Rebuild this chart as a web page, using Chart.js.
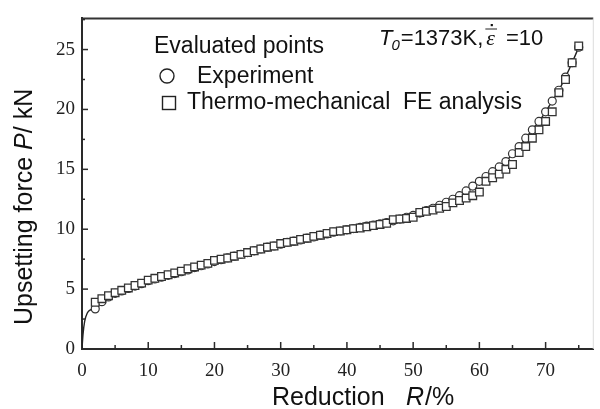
<!DOCTYPE html>
<html>
<head>
<meta charset="utf-8">
<script src="https://cdn.jsdelivr.net/npm/chart.js@4/dist/chart.umd.min.js"></script>
<style>
  html, body { margin: 0; padding: 0; background: #fff; }
  #wrap { width: 600px; height: 409px; position: relative; }
</style>
</head>
<body>
<div id="wrap"><canvas id="c" width="600" height="409"></canvas></div>
<script>
// ---- data ----
const startR = [0, 0.15, 0.4, 0.8, 1.2];           // initial steep rise of experimental curve
const startP = [0, 1.2, 2.3, 3.0, 3.25];
const expR = [2,3,4,5,6,7,8,9,10,11,12,13,14,15,16,17,18,19,20,21,22,23,24,25,26,27,28,29,30,31,32,33,34,35,36,37,38,39,40,41,42,43,44,45,46,47,48,49,50,51,52,53,54,55,56,57,58,59,60,61,62,63,64,65,66,67,68,69,70,71,72,73,74,75];
const expP = [3.35,3.95,4.35,4.65,4.85,5.05,5.25,5.45,5.7,5.85,6.0,6.15,6.3,6.45,6.6,6.8,6.95,7.1,7.3,7.45,7.6,7.75,7.9,8.05,8.2,8.35,8.5,8.6,8.75,8.9,9.0,9.1,9.25,9.35,9.5,9.6,9.75,9.85,9.95,10.05,10.15,10.25,10.35,10.45,10.55,10.7,10.85,11.0,11.15,11.35,11.55,11.75,12.0,12.25,12.5,12.8,13.2,13.6,14.0,14.4,14.8,15.2,15.65,16.3,16.9,17.6,18.3,19.0,19.8,20.7,21.6,22.7,23.9,25.2];
const feR = [2,3,4,5,6,7,8,9,10,11,12,13,14,15,16,17,18,19,20,21,22,23,24,25,26,27,28,29,30,31,32,33,34,35,36,37,38,39,40,41,42,43,44,45,46,47,48,49,50,51,52,53,54,55,56,57,58,59,60,61,62,63,64,65,66,67,68,69,70,71,72,73,74,75];
const feP = [3.9,4.2,4.45,4.7,4.9,5.1,5.3,5.5,5.75,5.9,6.05,6.2,6.35,6.5,6.7,6.85,7.0,7.15,7.4,7.5,7.6,7.75,7.9,8.05,8.2,8.35,8.5,8.6,8.8,8.9,9.0,9.15,9.25,9.4,9.5,9.65,9.8,9.85,9.95,10.05,10.1,10.2,10.3,10.4,10.5,10.8,10.85,10.9,11.0,11.4,11.5,11.6,11.75,11.9,12.2,12.4,12.6,12.8,13.1,14.0,14.3,14.6,15.0,15.4,16.4,16.9,17.6,18.3,19.0,19.8,21.4,22.5,23.9,25.3];
const xTickLabels = ['0','10','20','30','40','50','60','70'];
const yTickLabels = ['0','5','10','15','20','25'];

const pts = (xs, ys) => xs.map((x, i) => ({x: x, y: ys[i]}));
const lineData = pts(startR.concat(expR), startP.concat(expP));

const INK = '#2a2a2a';
const SANS = '"Liberation Sans", Arial, sans-serif';

const decor = {
  id: 'decor',
  afterDraw(chart) {
    const ctx = chart.ctx, a = chart.chartArea, xs = chart.scales.x, ys = chart.scales.y;
    ctx.save();
    // frame top & right
    ctx.strokeStyle = '#333'; ctx.lineWidth = 2;
    ctx.beginPath(); ctx.moveTo(a.left, a.top); ctx.lineTo(a.right, a.top); ctx.stroke();
    ctx.strokeStyle = '#ddd'; ctx.lineWidth = 1;
    ctx.beginPath(); ctx.moveTo(a.right, a.top); ctx.lineTo(a.right, a.bottom); ctx.stroke();
    // inward ticks
    ctx.strokeStyle = INK; ctx.lineWidth = 1.5;
    for (let v = 5; v <= 75; v += 5) {
      const px = xs.getPixelForValue(v), len = (v % 10 === 0) ? 7 : 4;
      ctx.beginPath(); ctx.moveTo(px, a.bottom); ctx.lineTo(px, a.bottom - len); ctx.stroke();
    }
    for (let v = 2.5; v <= 27.5; v += 2.5) {
      const py = ys.getPixelForValue(v), len = (v % 5 === 0) ? 6 : 3;
      ctx.beginPath(); ctx.moveTo(a.left, py); ctx.lineTo(a.left + len, py); ctx.stroke();
    }
    // axis titles
    ctx.fillStyle = '#111';
    ctx.textBaseline = 'alphabetic';
    ctx.textAlign = 'left';
    const f = '25px ' + SANS;
    const fi = 'italic 25px ' + SANS;
    // x title
    let x = 272, y = 405;
    ctx.font = f; ctx.fillText('Reduction', x, y);
    x = 406;
    ctx.font = fi; ctx.fillText('R', x, y); x += ctx.measureText('R').width + 1;
    ctx.font = f; ctx.fillText('/%', x, y);
    // y title
    ctx.save();
    ctx.translate(32, 325); ctx.rotate(-Math.PI / 2);
    x = 0;
    ctx.font = f; ctx.fillText('Upsetting force ', x, 0); x += ctx.measureText('Upsetting force ').width;
    ctx.font = fi; ctx.fillText('P', x, 0); x += ctx.measureText('P').width;
    ctx.font = f; ctx.fillText('/ kN', x, 0);
    ctx.restore();
    // legend
    ctx.font = '23px ' + SANS;
    ctx.fillText('Evaluated points', 154, 53);
    ctx.fillText('Experiment', 197, 83);
    ctx.fillText('Thermo-mechanical  FE analysis', 187, 109);
    ctx.strokeStyle = '#222'; ctx.lineWidth = 1.4;
    ctx.beginPath(); ctx.arc(167, 76, 7, 0, Math.PI * 2); ctx.stroke();
    ctx.strokeRect(162.5, 96.5, 13, 13);
    // annotation T0=1373K, eps-dot =10
    x = 379; y = 45;
    ctx.font = 'italic 22px ' + SANS;
    ctx.fillText('T', x, y); x += ctx.measureText('T').width;
    ctx.font = 'italic 15px ' + SANS;
    ctx.fillText('0', x - 1, y + 5); x += ctx.measureText('0').width;
    ctx.font = '22px ' + SANS;
    ctx.fillText('=1373K,', x, y); x += ctx.measureText('=1373K,').width + 3;
    ctx.font = 'italic 22px "Liberation Serif", "Times New Roman", serif';
    ctx.fillText('ε', x, y);
    const ew = ctx.measureText('ε').width;
    ctx.fillRect(x + ew / 2, y - 21, 2.2, 2.2);
    ctx.beginPath(); ctx.moveTo(x - 1, y - 16); ctx.lineTo(x + ew + 2, y - 16); ctx.lineWidth = 1; ctx.stroke();
    x += ew + 11;
    ctx.font = '22px ' + SANS;
    ctx.fillText('=10', x, y);
    ctx.restore();
  }
};

new Chart(document.getElementById('c'), {
  type: 'scatter',
  data: {
    datasets: [
      { label: 'Thermo-mechanical FE analysis', data: pts(feR, feP), showLine: false,
        pointStyle: 'rect', pointRadius: 5.4, pointBorderWidth: 1.3,
        pointBorderColor: '#333', pointBackgroundColor: '#fff' },
      { label: 'Experiment', data: pts(expR, expP), showLine: false,
        pointStyle: 'circle', pointRadius: 4, pointBorderWidth: 1.2,
        pointBorderColor: '#333', pointBackgroundColor: '#fff' },
      { label: 'Experiment curve', data: lineData, showLine: true, pointRadius: 0,
        borderColor: '#222', borderWidth: 1.4, tension: 0.3, cubicInterpolationMode: 'monotone' }
    ]
  },
  options: {
    responsive: false, animation: false, events: [],
    layout: { padding: { top: 10, right: 3, left: 0, bottom: 0 } },
    plugins: { legend: { display: false }, tooltip: { enabled: false } },
    scales: {
      x: {
        type: 'linear', min: 0, max: 77.2,
        grid: { display: false, drawTicks: false },
        border: { display: true, color: INK, width: 2 },
        ticks: { stepSize: 10, includeBounds: false, padding: 11, color: '#222',
          font: { family: '"Liberation Serif", "Times New Roman", serif', size: 19 },
          callback: (v) => xTickLabels[xTickLabels.indexOf(String(v))] },
        afterFit: (s) => { s.height = 60; }
      },
      y: {
        type: 'linear', min: 0, max: 27.6,
        grid: { display: false, drawTicks: false },
        border: { display: true, color: INK, width: 2 },
        ticks: { stepSize: 5, includeBounds: false, padding: 7, color: '#222',
          font: { family: '"Liberation Serif", "Times New Roman", serif', size: 19 },
          callback: (v) => yTickLabels[yTickLabels.indexOf(String(v))] },
        afterFit: (s) => { s.width = 82; }
      }
    }
  },
  plugins: [decor]
});
</script>
</body>
</html>
